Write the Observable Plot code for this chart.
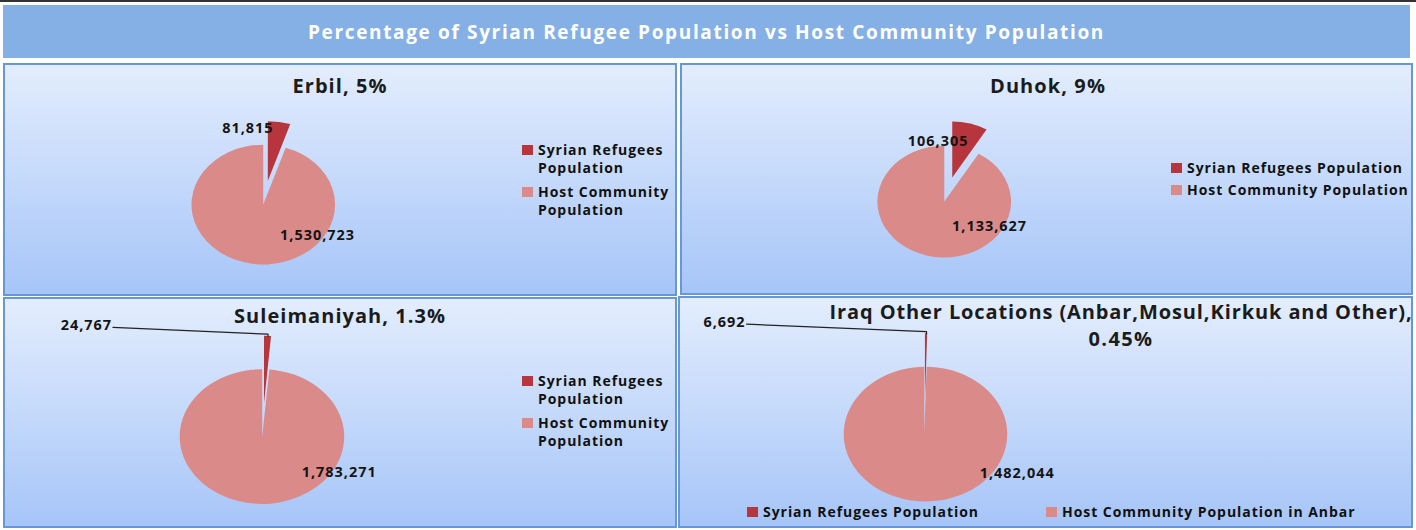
<!DOCTYPE html>
<html><head><meta charset="utf-8">
<script src="https://cdn.jsdelivr.net/npm/d3@7"></script>
<script src="https://cdn.jsdelivr.net/npm/@observablehq/plot@0.6"></script>
<style>
body{margin:0;width:1416px;height:530px;background:#fff;position:relative;overflow:hidden;font-family:"Open Sans",Lato,sans-serif;}
#topline{position:absolute;left:0;top:0;width:1416px;height:2px;background:#333;}
#titlebar{position:absolute;left:3px;top:5px;width:1407px;height:53px;background:#85b0e5;color:#fff;font-weight:bold;font-size:19px;display:flex;align-items:center;justify-content:center;}
.panel{position:absolute;box-sizing:border-box;border:2px solid #6797d6;background:linear-gradient(#e3edfd,#a6c5f8);}
.ptitle{position:absolute;font-weight:bold;color:#1b1b1b;text-align:center;font-size:20px;line-height:27px;width:800px;}
.ptitle span{white-space:nowrap;}
.leg{position:absolute;font-weight:bold;font-size:14px;color:#111;line-height:18.5px;white-space:nowrap;letter-spacing:0.95px;}
.sw{position:absolute;width:11px;height:10px;}
.plotwrap{position:absolute;left:-2px;top:-2px;}
</style></head>
<body>
<div id="topline"></div>
<div id="titlebar"><span id="maintitle">Percentage of Syrian Refugee Population vs Host Community Population</span></div>
<script>
// ---- data ----
const regions = ["Erbil", "Duhok", "Suleimaniyah", "Iraq Other Locations (Anbar,Mosul,Kirkuk and Other)"];
const percentLabels = ["5%", "9%", "1.3%", "0.45%"];
const refugees = [81815, 106305, 24767, 6692];
const hosts = [1530723, 1133627, 1783271, 1482044];
const seriesNames = ["Syrian Refugees Population", "Host Community Population"];
const hostSeriesNameOther = "Host Community Population in Anbar";
const colors = ["#b7363d", "#db8a8a"];

// ---- layout (page pixels) ----
const panels = [
  {left:3, top:63, w:674, h:233, cx:261, cy:142, rx:72, ry:60, explode:0.4,
   refLabel:{x:-0.22, y:1.28, anchor:"middle"}, hostLabel:{x:0.75, y:-0.5},
   title:{cx:340, cy:85, widths:[95]},
   legend:{type:"wrap", x:522, y:150}},
  {left:680, top:63, w:733, h:232, cx:265, cy:139, rx:67, ry:56, explode:0.45,
   refLabel:{x:-0.1, y:1.09, anchor:"middle"}, hostLabel:{x:0.67, y:-0.43},
   title:{cx:1048, cy:85, widths:[116]},
   legend:{type:"col", x:1171, y:168}},
  {left:3, top:297, w:674, h:231, cx:260, cy:140, rx:82.5, ry:67.5, explode:0.5,
   refLabel:{x:-1.82, y:1.63, anchor:"end", leader:true}, hostLabel:{x:0.93, y:-0.53},
   title:{cx:340, cy:315, widths:[212]},
   legend:{type:"wrap", x:522, y:381}},
  {left:678, top:296, w:735, h:232, cx:247, cy:138.5, rx:82, ry:67.5, explode:0.5,
   refLabel:{x:-2.18, y:1.64, anchor:"end", leader:true}, hostLabel:{x:1.13, y:-0.57},
   title:{cx:1121, cy:311, widths:[583, 65]},
   legend:{type:"row", x:747, y:512, x2:1046}}
];

const fmt = d3.format(",");

// widen a text span with letter-spacing so it spans the reference width
function fitWidth(span, target) {
  const w = span.getBoundingClientRect().width;
  const n = span.textContent.length;
  if (n > 0) span.style.letterSpacing = ((target - w) / n) + "px";
}
fitWidth(document.getElementById("maintitle"), 797);

function pieMark(slices) {
  return (index, scales) => {
    const {x, y} = scales;
    const rx = x(1) - x(0), ry = y(0) - y(1);
    const g = d3.create("svg:g");
    const arc = d3.arc().innerRadius(0).outerRadius(1);
    for (const s of slices) {
      const mid = (s.startAngle + s.endAngle) / 2;
      const ox = s.explode * Math.sin(mid), oy = s.explode * Math.cos(mid);
      g.append("path")
        .attr("d", arc(s))
        .attr("fill", s.color)
        .attr("transform", `translate(${x(ox)},${y(oy)}) scale(${rx},${ry})`);
    }
    return g.node();
  };
}

panels.forEach((p, i) => {
  const div = document.createElement("div");
  div.className = "panel";
  Object.assign(div.style, {left:p.left+"px", top:p.top+"px", width:p.w+"px", height:p.h+"px"});
  document.body.appendChild(div);

  const values = [refugees[i], hosts[i]];
  const pie = d3.pie().sort(null).value(d => d)(values);
  const slices = pie.map((s, k) => ({...s, color: colors[k], explode: k === 0 ? p.explode : 0}));
  const ref = slices[0];
  const refMid = (ref.startAngle + ref.endAngle) / 2;
  const tip = {x:(1 + p.explode) * Math.sin(refMid), y:(1 + p.explode) * Math.cos(refMid)};

  const labels = [
    {x:p.refLabel.x, y:p.refLabel.y, text:fmt(refugees[i]), anchor:p.refLabel.anchor},
    {x:p.hostLabel.x, y:p.hostLabel.y, text:fmt(hosts[i]), anchor:"middle"}
  ];
  const marks = [pieMark(slices)];
  if (p.refLabel.leader) {
    marks.push(Plot.line([{x:p.refLabel.x, y:p.refLabel.y}, {x:tip.x, y:tip.y + 0.03}, {x:tip.x, y:tip.y}],
      {x:"x", y:"y", stroke:"#222", strokeWidth:1.2}));
  }
  for (const anchor of ["middle", "end"]) {
    marks.push(Plot.text(labels.filter(d => d.anchor === anchor), {
      x:"x", y:"y", text:"text", textAnchor:anchor, dx: anchor === "end" ? -1 : 0, dy: anchor === "end" ? -2 : 0,
      fontSize:14.5, fontWeight:"bold", fill:"#141414"
    }));
  }

  const chart = Plot.plot({
    width:p.w, height:p.h, margin:0,
    x:{domain:[-1,1], range:[p.cx - p.rx, p.cx + p.rx], axis:null},
    y:{domain:[-1,1], range:[p.cy + p.ry, p.cy - p.ry], axis:null},
    style:{background:"transparent", fontFamily:"'Open Sans', Lato, sans-serif", overflow:"visible", letterSpacing:"1px"},
    marks
  });
  const wrap = document.createElement("div");
  wrap.className = "plotwrap";
  wrap.appendChild(chart);
  div.appendChild(wrap);

  // title
  const t = document.createElement("div");
  t.className = "ptitle";
  const lines = p.title.widths.length === 2 ? [regions[i] + ",", percentLabels[i]] : [`${regions[i]}, ${percentLabels[i]}`];
  Object.assign(t.style, {left:(p.title.cx - 400)+"px", top:(p.title.cy - 13.5)+"px"});
  document.body.appendChild(t);
  lines.forEach((line, k) => {
    if (k > 0) t.appendChild(document.createElement("br"));
    const sp = document.createElement("span");
    sp.textContent = line;
    t.appendChild(sp);
    fitWidth(sp, p.title.widths[k]);
  });

  // legend
  const L = p.legend;
  const addItem = (x, y, color, html) => {
    const sw = document.createElement("div");
    sw.className = "sw";
    Object.assign(sw.style, {left:x+"px", top:(y - 5)+"px", background:color});
    document.body.appendChild(sw);
    const tx = document.createElement("div");
    tx.className = "leg";
    tx.innerHTML = html;
    Object.assign(tx.style, {left:(x + 16)+"px", top:(y - 9.5)+"px"});
    document.body.appendChild(tx);
  };
  if (L.type === "wrap") {
    addItem(L.x, L.y, colors[0], seriesNames[0].replace(" Population", "<br>Population"));
    addItem(L.x, L.y + 42, colors[1], seriesNames[1].replace(" Population", "<br>Population"));
  } else if (L.type === "col") {
    addItem(L.x, L.y, colors[0], seriesNames[0]);
    addItem(L.x, L.y + 22, colors[1], seriesNames[1]);
  } else {
    addItem(L.x, L.y, colors[0], seriesNames[0]);
    addItem(L.x2, L.y, colors[1], hostSeriesNameOther);
  }
});
</script>
</body></html>
